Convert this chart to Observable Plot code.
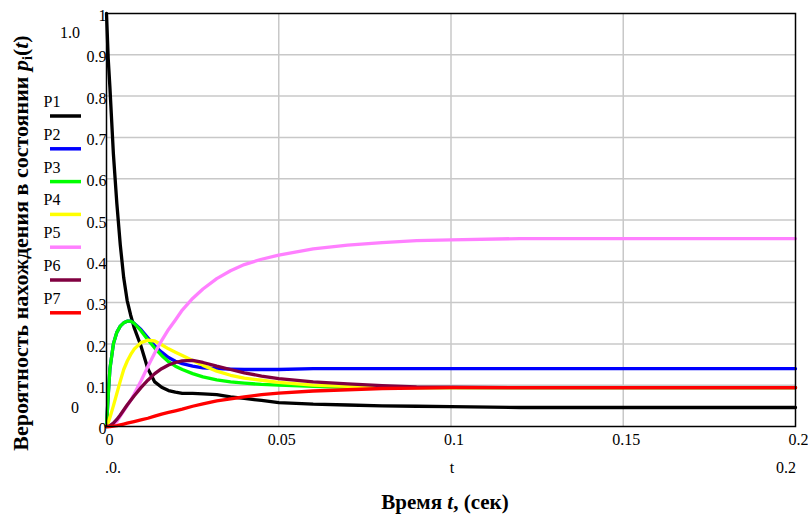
<!DOCTYPE html>
<html><head><meta charset="utf-8">
<script src="https://cdn.jsdelivr.net/npm/d3@7"></script>
<script src="https://cdn.jsdelivr.net/npm/@observablehq/plot@0.6"></script>
<style>
html,body{margin:0;padding:0;background:#fff}
svg{display:block}
</style>
</head><body><div id="chart"></div>
<script>
const T  = [0, 0.0005, 0.001, 0.002, 0.003, 0.004, 0.005, 0.006, 0.007, 0.008, 0.010, 0.012, 0.014, 0.016, 0.018, 0.020, 0.022, 0.025, 0.028, 0.032, 0.036, 0.040, 0.045, 0.050, 0.060, 0.070, 0.080, 0.090, 0.100, 0.120, 0.150, 0.200];
const P1 = [1, 0.89, 0.82, 0.66, 0.54, 0.44, 0.36, 0.305, 0.27, 0.24, 0.195, 0.14, 0.108, 0.095, 0.087, 0.083, 0.080, 0.080, 0.079, 0.077, 0.072, 0.068, 0.063, 0.058, 0.054, 0.052, 0.050, 0.049, 0.048, 0.046, 0.046, 0.046];
const P2 = [0, 0.075, 0.14, 0.20, 0.228, 0.243, 0.251, 0.255, 0.255, 0.250, 0.235, 0.215, 0.195, 0.180, 0.167, 0.158, 0.152, 0.146, 0.142, 0.140, 0.139, 0.138, 0.138, 0.138, 0.140, 0.140, 0.140, 0.140, 0.140, 0.140, 0.140, 0.140];
const P3 = [0, 0.075, 0.14, 0.20, 0.228, 0.243, 0.251, 0.255, 0.255, 0.250, 0.232, 0.210, 0.190, 0.172, 0.157, 0.146, 0.138, 0.128, 0.120, 0.113, 0.108, 0.105, 0.102, 0.100, 0.097, 0.095, 0.094, 0.094, 0.094, 0.094, 0.094, 0.094];
const P4 = [0, 0.010, 0.022, 0.05, 0.08, 0.11, 0.138, 0.158, 0.174, 0.187, 0.203, 0.209, 0.207, 0.198, 0.188, 0.180, 0.172, 0.160, 0.148, 0.134, 0.124, 0.117, 0.112, 0.107, 0.100, 0.097, 0.095, 0.094, 0.094, 0.094, 0.094, 0.094];
const P5 = [0, 0, 0.001, 0.005, 0.012, 0.025, 0.038, 0.050, 0.063, 0.078, 0.110, 0.145, 0.178, 0.208, 0.235, 0.258, 0.282, 0.310, 0.333, 0.358, 0.377, 0.392, 0.405, 0.415, 0.430, 0.439, 0.445, 0.450, 0.452, 0.455, 0.455, 0.455];
const P6 = [0, 0, 0.002, 0.008, 0.017, 0.028, 0.040, 0.052, 0.063, 0.074, 0.094, 0.112, 0.128, 0.140, 0.149, 0.155, 0.159, 0.160, 0.155, 0.146, 0.138, 0.130, 0.122, 0.116, 0.108, 0.103, 0.099, 0.096, 0.095, 0.094, 0.094, 0.094];
const P7 = [0, 0, 0, 0.001, 0.002, 0.004, 0.006, 0.008, 0.010, 0.012, 0.016, 0.020, 0.025, 0.030, 0.034, 0.038, 0.042, 0.049, 0.055, 0.062, 0.067, 0.072, 0.077, 0.081, 0.086, 0.089, 0.092, 0.093, 0.094, 0.094, 0.094, 0.094];
const seriesNames  = ["P1", "P2", "P3", "P4", "P5", "P6", "P7"];
const seriesColors = ["#000000", "#0000ff", "#00ff00", "#ffff00", "#ff80ff", "#800040", "#ff0000"];
const yTicks = [0, 0.1, 0.2, 0.3, 0.4, 0.5, 0.6, 0.7, 0.8, 0.9, 1];
const xTicks = [0, 0.05, 0.1, 0.15, 0.2];
const xGrid = [0.05, 0.1, 0.15];
const yGrid = [0.1, 0.2, 0.3, 0.4, 0.5, 0.6, 0.7, 0.8, 0.9];

const allSeries = [P1, P2, P3, P4, P5, P6, P7];
const data = [];
allSeries.forEach((vals, k) => vals.forEach((v, i) => data.push({t: T[i], p: v, s: seriesNames[k]})));

const FONT = "Liberation Serif";

const chart = Plot.plot({
  width: 808, height: 515,
  marginLeft: 106, marginRight: 13, marginTop: 13, marginBottom: 89,
  style: {fontFamily: FONT, fontSize: "16px", color: "#000", background: "#fff"},
  x: {domain: [0, 0.2]},
  y: {domain: [0, 1]},
  color: {domain: seriesNames, range: seriesColors},
  marks: [
    Plot.gridY(yGrid, {stroke: "#c8c8c8", strokeOpacity: 1, strokeWidth: 1.5}),
    Plot.gridX(xGrid, {stroke: "#c8c8c8", strokeOpacity: 1, strokeWidth: 1.5}),
    Plot.line(data, {x: "t", y: "p", z: "s", stroke: "s", strokeWidth: 3.3, strokeLinejoin: "round"}),
    Plot.frame({stroke: "#000", strokeWidth: 1.5}),
    Plot.axisY(yTicks, {tickSize: 0, tickPadding: 0, dy: 2.5, label: null,
      tickFormat: d => d === 0 ? "0" : d === 1 ? "1" : d.toFixed(1), fill: "#000"}),
    Plot.axisX(xTicks, {tickSize: 0, tickPadding: 7, dx: 3, label: null,
      tickFormat: d => d === 0 ? "0" : String(d), fill: "#000"})
  ]
});
document.getElementById("chart").appendChild(chart);

const svg = d3.select(chart);
const g = svg.append("g").attr("fill", "#000").style("font-family", FONT);

// legend
seriesNames.forEach((name, i) => {
  const yl = 116 + 32.8 * i;
  g.append("text").attr("x", 52).attr("y", yl - 9).attr("font-size", 16).text(name);
  g.append("line").attr("x1", 50).attr("x2", 81).attr("y1", yl).attr("y2", yl)
    .attr("stroke", seriesColors[i]).attr("stroke-width", 3.5);
});

// extra Mathcad labels
const extras = [
  {x: 70, y: 38, s: "1.0"},
  {x: 75, y: 413, s: "0"},
  {x: 113, y: 473, s: ".0."},
  {x: 452, y: 473, s: "t"},
  {x: 786, y: 473, s: "0.2"}
];
extras.forEach(e => g.append("text").attr("x", e.x).attr("y", e.y).attr("text-anchor", "middle")
  .attr("font-size", 16).text(e.s));

// y title
const yt = g.append("text").attr("transform", "translate(28,243) rotate(-90)")
  .attr("text-anchor", "middle").attr("font-size", 22).attr("font-weight", "bold");
yt.append("tspan").text("Вероятность нахождения в состоянии ");
yt.append("tspan").attr("font-style", "italic").text("p");
yt.append("tspan").attr("font-size", 14).attr("dy", 4).text("i");
yt.append("tspan").attr("dy", -4).text("(");
yt.append("tspan").attr("font-style", "italic").text("t");
yt.append("tspan").text(")");

// x title
const xt = g.append("text").attr("x", 445).attr("y", 509).attr("text-anchor", "middle")
  .attr("font-size", 21).attr("font-weight", "bold");
xt.append("tspan").text("Время ");
xt.append("tspan").attr("font-style", "italic").text("t");
xt.append("tspan").text(", (сек)");
</script></body></html>
